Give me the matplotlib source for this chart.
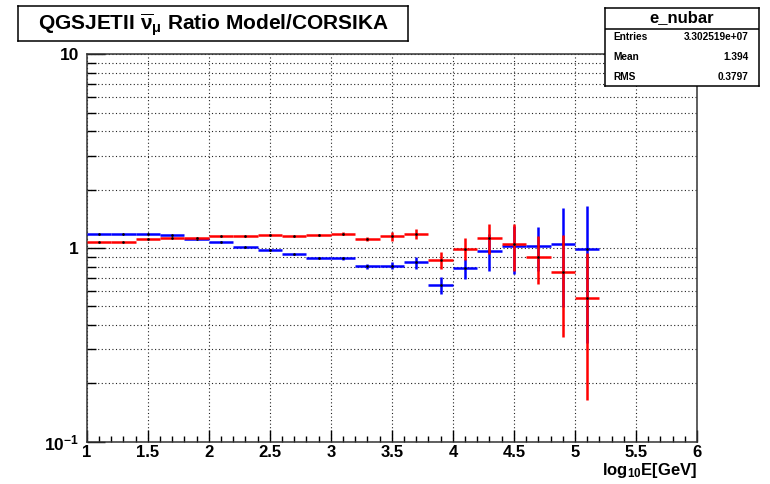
import numpy as np
import matplotlib
matplotlib.use("Agg")
import matplotlib.pyplot as plt
from matplotlib.ticker import FixedLocator, FixedFormatter, LogLocator, NullFormatter

plt.rcParams['font.family'] = ['Liberation Sans', 'DejaVu Sans']
plt.rcParams['font.weight'] = 'bold'
plt.rcParams['mathtext.fontset'] = 'custom'
plt.rcParams['mathtext.rm'] = 'Liberation Sans:bold'
plt.rcParams['mathtext.bf'] = 'Liberation Sans:bold'
plt.rcParams['mathtext.it'] = 'Liberation Sans'

# bin centres in log10(E/GeV), bins are 0.2 wide
log_e = [1.1, 1.3, 1.5, 1.7, 1.9, 2.1, 2.3, 2.5, 2.7, 2.9, 3.1,
         3.3, 3.5, 3.7, 3.9, 4.1, 4.3, 4.5, 4.7, 4.9, 5.1]
bin_width = 0.2

ratio_blue = [1.184, 1.184, 1.184, 1.170, 1.111, 1.076, 1.011, 0.982, 0.926, 0.893, 0.883,
              0.803, 0.812, 0.842, 0.646, 0.788, 0.967, 1.018, 1.026, 1.051, 0.987]
err_blue = [0.002, 0.002, 0.003, 0.003, 0.004, 0.005, 0.006, 0.007, 0.008, 0.010, 0.015,
            0.020, 0.036, 0.060, 0.065, 0.094, 0.210, 0.280, 0.265, 0.555, 0.664]

ratio_red = [1.076, 1.076, 1.111, 1.125, 1.129, 1.147, 1.147, 1.170, 1.147, 1.170, 1.184,
             1.111, 1.147, 1.184, 0.866, 0.994, 1.129, 1.047, 0.898, 0.756, 0.555]
err_red = [0.002, 0.002, 0.003, 0.003, 0.004, 0.005, 0.006, 0.007, 0.008, 0.010, 0.020,
           0.025, 0.060, 0.075, 0.090, 0.130, 0.200, 0.290, 0.250, 0.410, 0.390]

x_ticks = [1, 1.5, 2, 2.5, 3, 3.5, 4, 4.5, 5, 5.5, 6]
x_ticklabels = ['1', '1.5', '2', '2.5', '3', '3.5', '4', '4.5', '5', '5.5', '6']
y_ticks = [0.1, 1, 10]
y_ticklabels = [r'$\mathbf{10^{-1}}$', '1', '10']

stats_name = 'e_nubar'
stats_rows = [('Entries', '3.302519e+07'), ('Mean', '1.394'), ('RMS', '0.3797')]

W, H = 770, 484


def px_rect(x0, y0, x1, y1):
    # pixel box (top-left origin) -> figure fraction [left, bottom, width, height]
    return [x0 / W, 1 - y1 / H, (x1 - x0) / W, (y1 - y0) / H]


fig = plt.figure(figsize=(W / 100, H / 100), dpi=100)
ax = fig.add_axes(px_rect(86.7, 54.3, 697, 441.7))

ax.set_xlim(1, 6)
ax.set_yscale('log')
ax.set_ylim(0.1, 10)

dot = (0, (1, 2.2))
ax.xaxis.set_major_locator(FixedLocator(x_ticks))
ax.xaxis.set_major_formatter(FixedFormatter(x_ticklabels))
ax.xaxis.set_minor_locator(FixedLocator(np.round(np.arange(1, 6.01, 0.1), 2)))
ax.yaxis.set_major_locator(FixedLocator(y_ticks))
ax.yaxis.set_major_formatter(FixedFormatter(y_ticklabels))
ax.yaxis.set_minor_locator(LogLocator(base=10, subs=range(2, 10)))
ax.yaxis.set_minor_formatter(NullFormatter())

ax.tick_params(axis='x', which='major', direction='in', length=8.6, width=1.0,
               labelsize=12, pad=2.5, top=False)
ax.tick_params(axis='x', which='minor', direction='in', length=4.3, width=1.0, top=False)
ax.tick_params(axis='y', which='major', direction='in', length=13, width=1.0,
               labelsize=12.5, pad=5.5, right=False)
ax.tick_params(axis='y', which='minor', direction='in', length=6.5, width=1.0, right=False)
for lab in ax.get_xticklabels() + ax.get_yticklabels():
    lab.set_fontweight('bold')

ax.grid(True, axis='x', which='major', color='#222222', ls=dot, lw=0.8)
ax.grid(True, axis='y', which='both', color='#222222', ls=dot, lw=0.8)
for sp in ax.spines.values():
    sp.set_linewidth(1.1)
    sp.set_color('#333333')

ax.errorbar(log_e, ratio_blue, xerr=bin_width / 2, yerr=err_blue, fmt='none',
            ecolor='#0000ff', elinewidth=1.8, capsize=0, zorder=3)
ax.plot(log_e, ratio_blue, ls='none', marker='.', ms=1.8, color='k', zorder=4)
ax.errorbar(log_e, ratio_red, xerr=bin_width / 2, yerr=err_red, fmt='none',
            ecolor='#ff0000', elinewidth=1.8, capsize=0, zorder=5)
ax.plot(log_e, ratio_red, ls='none', marker='.', ms=1.8, color='k', zorder=6)

fig.text(697 / W, 1 - 470 / H, r'log$_{10}$E[GeV]', ha='right', va='center',
         fontsize=12, fontweight='bold')

# title box
tax = fig.add_axes(px_rect(18, 6, 408, 41))
tax.set_xticks([])
tax.set_yticks([])
for sp in tax.spines.values():
    sp.set_linewidth(1.1)
tax.text(0.5, 0.47, r'QGSJETII $\overline{\nu}_{\mu}$ Ratio Model/CORSIKA',
         ha='center', va='center', fontsize=15, fontweight='bold', transform=tax.transAxes)

# statistics box
sax = fig.add_axes(px_rect(605, 8, 759, 86))
sax.set_xlim(605, 759)
sax.set_ylim(86, 8)
sax.set_xticks([])
sax.set_yticks([])
sax.set_facecolor('white')
for sp in sax.spines.values():
    sp.set_linewidth(1.1)
sax.axhline(29, color='k', lw=1.1)
sax.text(682, 18, stats_name, ha='center', va='center', fontsize=12, fontweight='bold')
for (name, val), yy in zip(stats_rows, [37, 57.5, 77.5]):
    sax.text(613, yy, name, ha='left', va='center', fontsize=7.3, fontweight='bold')
    sax.text(749, yy, val, ha='right', va='center', fontsize=7.3, fontweight='bold')

fig.savefig('out.png', dpi=100)
